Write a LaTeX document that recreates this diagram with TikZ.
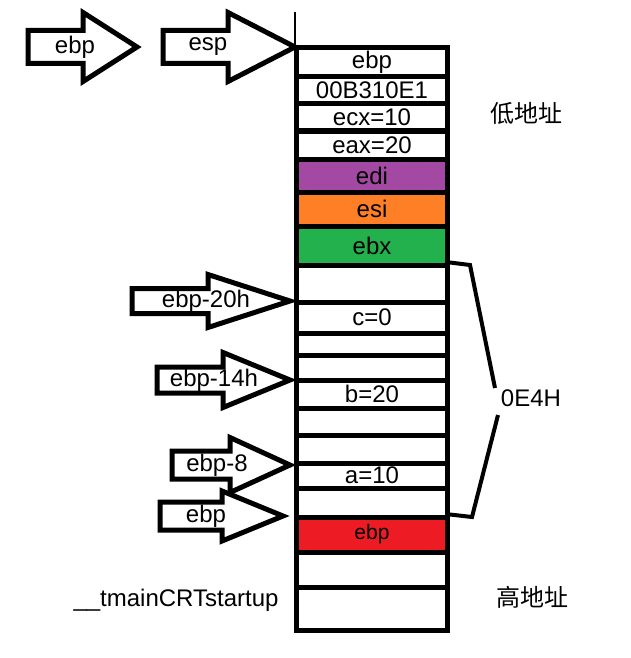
\documentclass[tikz,border=0pt]{standalone}
\usepackage{fontspec}
\setmainfont{Liberation Sans}
\newfontfamily\cjkfont{Noto Sans CJK SC}
\usepackage{xcolor}

\definecolor{paintpurple}{RGB}{163,73,164}
\definecolor{paintorange}{RGB}{255,127,39}
\definecolor{paintgreen}{RGB}{34,177,76}
\definecolor{paintred}{RGB}{237,28,36}

\tikzset{
  ptr/.style={draw=black, fill=white, line width=5pt, line join=miter},
  cell/.style={draw=black, line width=5pt, minimum width=151pt, inner sep=0pt},
  brace/.style={line width=4pt},
}

% block arrow: name, left x, head x, tip x, mid y, shaft half, head half, label x, text
\newcommand{\ptrarrow}[9]{%
  \draw[ptr] (#2,{#5-#6}) -- (#3,{#5-#6}) -- (#3,{#5-#7}) -- (#4,#5)
    -- (#3,{#5+#7}) -- (#3,{#5+#6}) -- (#2,{#5+#6}) -- cycle;
  \node (#1) at (#8,#5) {#9};}

\begin{document}
\begin{tikzpicture}[x=1pt, y=-1pt, font=\fontsize{24}{27}\selectfont]
  \useasboundingbox (0,0) rectangle (630,658);

  % stack cells
  \foreach \ya/\yb/\col/\txt [count=\i] in {
      48/77/white/ebp, 77/104/white/00B310E1, 104/131/white/{ecx=10},
      131/159/white/{eax=20}, 159/192/paintpurple/edi, 192/226/paintorange/esi,
      226/265/paintgreen/ebx, 265/302/white/{}, 302/333/white/{c=0},
      333/355/white/{}, 355/380/white/{}, 380/408/white/{b=20},
      408/435/white/{}, 435/463/white/{}, 463/488/white/{a=10},
      488/517/white/{}, 517/552/paintred/{\fontsize{21}{24}\selectfont ebp},
      552/587/white/{}, 587/630/white/{}}
    \node[cell, fill=\col, minimum height={(\yb-\ya)*1pt}] (row\i) at (372,{(\ya+\yb)/2}) {\txt};

  \coordinate (top) at (295,12);
  \draw[line width=1.5pt] (top) -- (top |- row1.north);

  % pointers
  \ptrarrow{ebptop}{28}{83}{137}{47}{16.5}{34.5}{75}{ebp}
  \ptrarrow{esp}{163}{228}{295}{47}{16.5}{34.5}{208}{esp}
  \ptrarrow{ebpc}{132}{208}{290}{301}{12.5}{26.5}{206}{ebp-20h}
  \ptrarrow{ebpb}{157}{223}{290}{380}{13}{27.5}{214}{ebp-14h}
  \ptrarrow{ebpa}{172}{230}{290}{465}{14}{27.5}{217}{ebp-8}
  \ptrarrow{ebpbot}{160}{222}{283}{516}{14}{25}{206}{ebp}

  % frame size
  \node (size) at (531,398) {0E4H};
  \draw[brace] (row8.north east) -- (470,265) -- (495,388);
  \draw[brace] (498,415) -- (472,517) -- (row17.north east);

  \node (low) at (526,113) {\cjkfont 低地址};
  \node (high) at (532,597) {\cjkfont 高地址};
  \node (caller) at (176,600) {\_\_tmainCRTstartup};
\end{tikzpicture}
\end{document}
